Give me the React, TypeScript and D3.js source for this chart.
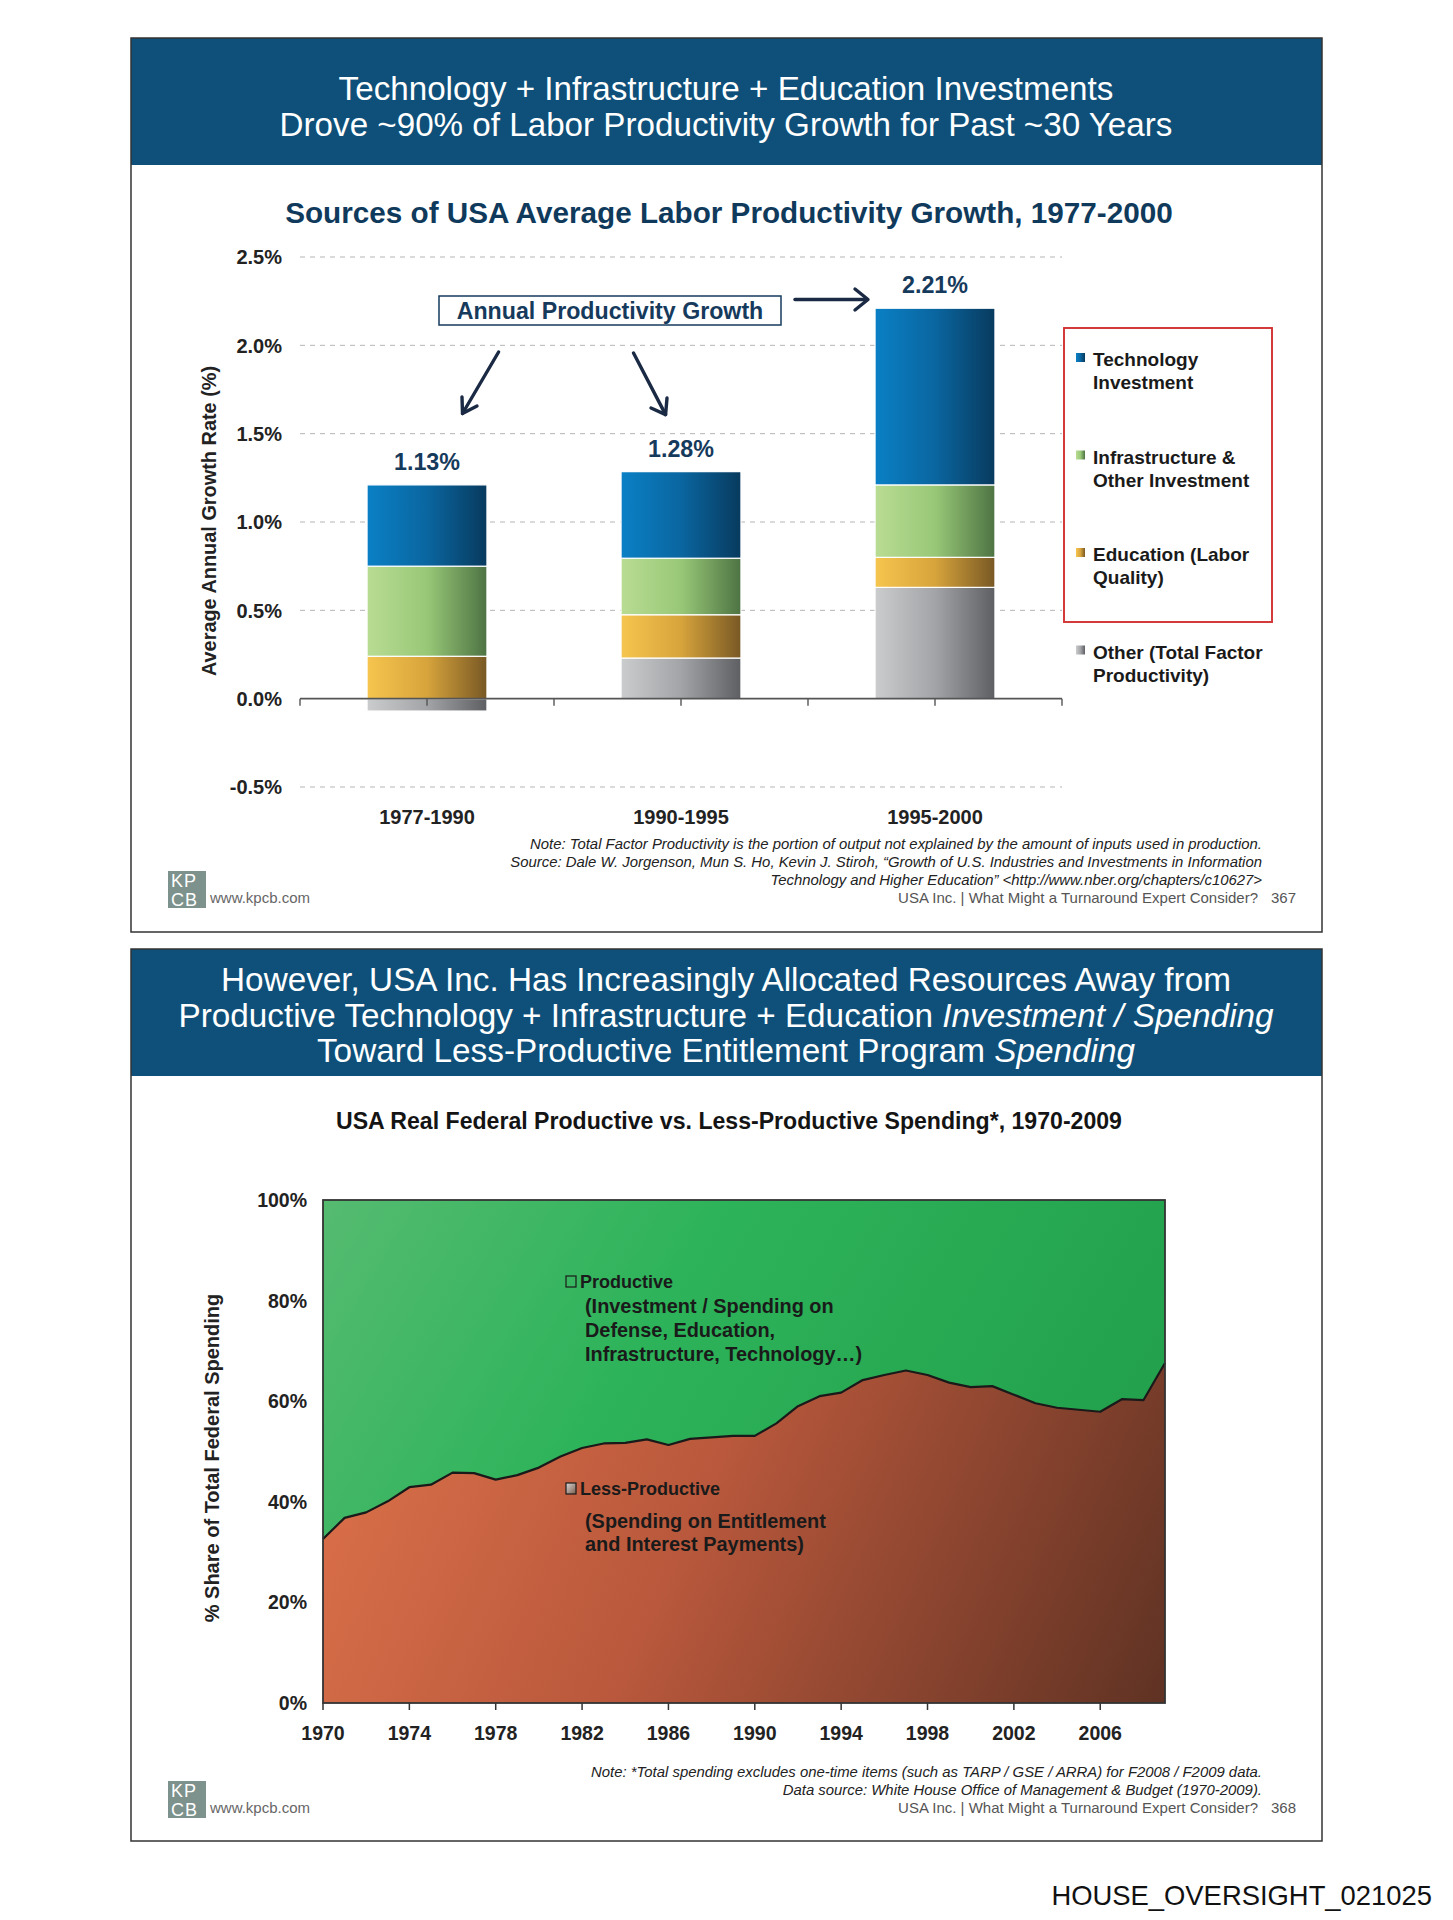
import React from "react";
import * as d3 from "d3";

// ---------- Chart 1 data ----------
const periods = ["1977-1990", "1990-1995", "1995-2000"];
const otherTFP = [-0.07, 0.23, 0.63];
const education = [0.24, 0.245, 0.17];
const infrastructure = [0.51, 0.32, 0.41];
const technology = [0.46, 0.49, 1.0];
const totalLabels = ["1.13%", "1.28%", "2.21%"];
const yTicks1 = [-0.5, 0.0, 0.5, 1.0, 1.5, 2.0, 2.5];
const seriesKeys = ["other", "education", "infrastructure", "technology"];
const legendItems = [
  ["Technology", "Investment"],
  ["Infrastructure &", "Other Investment"],
  ["Education (Labor", "Quality)"],
  ["Other (Total Factor", "Productivity)"],
];

// ---------- Chart 2 data ----------
const years = [
  1970, 1971, 1972, 1973, 1974, 1975, 1976, 1977, 1978, 1979,
  1980, 1981, 1982, 1983, 1984, 1985, 1986, 1987, 1988, 1989,
  1990, 1991, 1992, 1993, 1994, 1995, 1996, 1997, 1998, 1999,
  2000, 2001, 2002, 2003, 2004, 2005, 2006, 2007, 2008, 2009,
];
const lessProductiveShare = [
  32.6, 36.8, 37.9, 40.1, 42.9, 43.4, 45.8, 45.7, 44.4, 45.3,
  46.8, 49.0, 50.7, 51.6, 51.7, 52.4, 51.3, 52.5, 52.8, 53.1,
  53.1, 55.6, 59.0, 61.0, 61.7, 64.2, 65.2, 66.1, 65.2, 63.7,
  62.8, 63.0, 61.3, 59.6, 58.7, 58.3, 57.9, 60.4, 60.2, 67.6,
];
const xTickYears = [1970, 1974, 1978, 1982, 1986, 1990, 1994, 1998, 2002, 2006];
const yTicks2 = [0, 20, 40, 60, 80, 100];

const SANS = "'Liberation Sans', Arial, Helvetica, sans-serif";
const NAVY = "#163a5c";

function Footer({ top, notes, page }: { top: number; notes: string[]; page: string }) {
  const last = top + notes.length * 18;
  return (
    <g fontFamily={SANS}>
      {notes.map((n, i) => (
        <text key={i} x={1262} y={top + i * 18} textAnchor="end" fontSize={14.9} fontStyle="italic" fill="#222">
          {n}
        </text>
      ))}
      <rect x={168} y={last - 32} width={38} height={37} fill="#7d918d" />
      <text x={171} y={last - 16} fontSize={18} fill="#fff" fontWeight={300} letterSpacing={1}>KP</text>
      <text x={171} y={last + 3} fontSize={18} fill="#fff" fontWeight={300} letterSpacing={1}>CB</text>
      <text x={210} y={last} fontSize={15} fill="#666">www.kpcb.com</text>
      <text x={1258} y={last} textAnchor="end" fontSize={15} fill="#555">
        USA Inc. | What Might a Turnaround Expert Consider?
      </text>
      <text x={1296} y={last} textAnchor="end" fontSize={15} fill="#555">{page}</text>
    </g>
  );
}

function Chart1() {
  const y = d3.scaleLinear().domain([-0.5, 2.5]).range([787, 257]);
  const x = d3.scaleBand<string>().domain(periods).range([300, 1062]).paddingInner(0.528).paddingOuter(0.264);
  const rows = periods.map((p, i) => ({
    period: p,
    other: otherTFP[i],
    education: education[i],
    infrastructure: infrastructure[i],
    technology: technology[i],
  }));
  const stack = d3.stack<any>().keys(seriesKeys).offset(d3.stackOffsetDiverging);
  const layers = stack(rows);
  const step = x.step();
  const tickXs = d3.range(7).map((k) => 300 + (k * step) / 2);
  const gradIds: Record<string, string> = {
    technology: "gTech",
    infrastructure: "gInfra",
    education: "gEdu",
    other: "gOther",
  };
  const legendGrad = ["gTech", "gInfra", "gEdu", "gOther"];
  return (
    <g fontFamily={SANS}>
      <defs>
        <linearGradient id="gTech" x1="0" x2="1" y1="0" y2="0">
          <stop offset="0" stopColor="#0a80c5" />
          <stop offset="0.5" stopColor="#0a66a0" />
          <stop offset="1" stopColor="#083a5e" />
        </linearGradient>
        <linearGradient id="gInfra" x1="0" x2="1" y1="0" y2="0">
          <stop offset="0" stopColor="#b9dc93" />
          <stop offset="0.5" stopColor="#98c877" />
          <stop offset="1" stopColor="#4d7343" />
        </linearGradient>
        <linearGradient id="gEdu" x1="0" x2="1" y1="0" y2="0">
          <stop offset="0" stopColor="#f6c54e" />
          <stop offset="0.5" stopColor="#d7a43c" />
          <stop offset="1" stopColor="#785824" />
        </linearGradient>
        <linearGradient id="gOther" x1="0" x2="1" y1="0" y2="0">
          <stop offset="0" stopColor="#cbcccd" />
          <stop offset="0.5" stopColor="#a3a4a7" />
          <stop offset="1" stopColor="#5d5f63" />
        </linearGradient>
      </defs>
      {/* header */}
      <rect x={131} y={38} width={1191} height={127} fill="#0e5079" />
      <rect x={131} y={38} width={1191} height={894} fill="none" stroke="#333" strokeWidth={1.5} />
      <text x={726} y={100} textAnchor="middle" fontSize={33.2} fill="#fff">
        Technology + Infrastructure + Education Investments
      </text>
      <text x={726} y={136} textAnchor="middle" fontSize={33.2} fill="#fff">
        Drove ~90% of Labor Productivity Growth for Past ~30 Years
      </text>
      <text x={729} y={223} textAnchor="middle" fontSize={29.7} fontWeight="bold" fill="#0f3a5c">
        Sources of USA Average Labor Productivity Growth, 1977-2000
      </text>
      {/* gridlines */}
      {yTicks1.filter((t) => t !== 0).map((t) => (
        <line key={t} x1={300} x2={1062} y1={y(t)} y2={y(t)} stroke="#b5b5b5" strokeWidth={1} strokeDasharray="5,5" />
      ))}
      {yTicks1.map((t) => (
        <text key={t} x={282} y={y(t)} dy="0.36em" textAnchor="end" fontSize={20} fontWeight="bold" fill="#222">
          {t.toFixed(1) + "%"}
        </text>
      ))}
      <text transform={`translate(216,521) rotate(-90)`} textAnchor="middle" fontSize={19.9} fontWeight="bold" fill="#222">
        Average Annual Growth Rate (%)
      </text>
      {/* bars */}
      {layers.map((layer) =>
        layer.map((d, i) => {
          const top = y(Math.max(d[0], d[1]));
          const bot = y(Math.min(d[0], d[1]));
          return (
            <rect
              key={layer.key + i}
              x={x(periods[i])}
              y={top}
              width={x.bandwidth()}
              height={bot - top}
              fill={`url(#${gradIds[layer.key]})`}
              stroke="#fff"
              strokeWidth={1.2}
            />
          );
        })
      )}
      {/* axis */}
      <line x1={300} x2={1062} y1={y(0)} y2={y(0)} stroke="#555" strokeWidth={1.6} />
      {tickXs.map((tx, i) => (
        <line key={i} x1={tx} x2={tx} y1={y(0)} y2={y(0) + 7} stroke="#555" strokeWidth={1.4} />
      ))}
      {periods.map((p) => (
        <text key={p} x={(x(p) as number) + x.bandwidth() / 2} y={824} textAnchor="middle" fontSize={20} fontWeight="bold" fill="#222">
          {p}
        </text>
      ))}
      {/* totals */}
      {periods.map((p, i) => {
        const topVal = technology[i] + infrastructure[i] + education[i] + Math.max(0, otherTFP[i]);
        return (
          <text key={p} x={(x(p) as number) + x.bandwidth() / 2} y={y(topVal) - 15} textAnchor="middle" fontSize={23.3} fontWeight="bold" fill={NAVY}>
            {totalLabels[i]}
          </text>
        );
      })}
      {/* annotation */}
      <rect x={439} y={296} width={342} height={29} fill="#fff" stroke={NAVY} strokeWidth={1.5} />
      <text x={610} y={318.5} textAnchor="middle" fontSize={23.2} fontWeight="bold" fill={NAVY}>
        Annual Productivity Growth
      </text>
      <g stroke="#1b2a44" strokeWidth={3.4} fill="none" strokeLinecap="round" strokeLinejoin="round">
        <line x1={795} y1={299.5} x2={867} y2={299.5} />
        <polyline points="855,289 868,299.5 855,310" />
        <line x1={498.6} y1={352} x2={462.5} y2={413.5} />
        <polyline points="462,397 462.5,413.5 477,406" />
        <line x1={633.5} y1={353} x2={665.6} y2={414.6} />
        <polyline points="651,408 665.6,414.6 667,398" />
      </g>
      {/* legend */}
      <rect x={1064} y={328} width={208} height={294} fill="none" stroke="#d33a3a" strokeWidth={2} />
      {legendItems.map((item, i) => {
        const base = 366 + i * 97.5;
        return (
          <g key={i}>
            <rect x={1076} y={base - 13} width={9} height={9} fill={`url(#${legendGrad[i]})`} />
            <text x={1093} y={base} fontSize={19} fontWeight="bold" fill="#1a1a1a">{item[0]}</text>
            <text x={1093} y={base + 23} fontSize={19} fontWeight="bold" fill="#1a1a1a">{item[1]}</text>
          </g>
        );
      })}
      <Footer
        top={849}
        page="367"
        notes={[
          "Note: Total Factor Productivity is the portion of output not explained by the amount of inputs used in production.",
          "Source: Dale W. Jorgenson, Mun S. Ho, Kevin J. Stiroh, \u201CGrowth of U.S. Industries and Investments in Information",
          "Technology and Higher Education\u201D <http://www.nber.org/chapters/c10627>",
        ]}
      />
    </g>
  );
}

function Chart2() {
  const x = d3.scaleLinear().domain([1970, 2009]).range([323, 1165]);
  const y = d3.scaleLinear().domain([0, 100]).range([1703, 1200]);
  const data = years.map((yr, i) => ({ yr, v: lessProductiveShare[i] }));
  const lower = d3.area<any>().x((d) => x(d.yr)).y0(y(0)).y1((d) => y(d.v))(data) as string;
  const upper = d3.area<any>().x((d) => x(d.yr)).y0(y(100)).y1((d) => y(d.v))(data) as string;
  const line = d3.line<any>().x((d) => x(d.yr)).y((d) => y(d.v))(data) as string;
  return (
    <g fontFamily={SANS}>
      <defs>
        <linearGradient id="gGreen" gradientUnits="userSpaceOnUse" x1={323} y1={1200} x2={1165} y2={1703}>
          <stop offset="0" stopColor="#55bb70" />
          <stop offset="0.35" stopColor="#2db35a" />
          <stop offset="1" stopColor="#1f9a47" />
        </linearGradient>
        <linearGradient id="gOrange" gradientUnits="userSpaceOnUse" x1={323} y1={1330} x2={1165} y2={1703}>
          <stop offset="0" stopColor="#de734b" />
          <stop offset="0.45" stopColor="#b9583c" />
          <stop offset="1" stopColor="#5f3223" />
        </linearGradient>
        <linearGradient id="gLegSq" x1="0" x2="1" y1="0" y2="1">
          <stop offset="0" stopColor="#d9d9d9" />
          <stop offset="1" stopColor="#7a5a4a" />
        </linearGradient>
      </defs>
      <rect x={131} y={949} width={1191} height={127} fill="#0e5079" />
      <rect x={131} y={949} width={1191} height={892} fill="none" stroke="#333" strokeWidth={1.5} />
      <text x={726} y={991} textAnchor="middle" fontSize={33.3} fill="#fff">
        However, USA Inc. Has Increasingly Allocated Resources Away from
      </text>
      <text x={726} y={1027} textAnchor="middle" fontSize={33.3} fill="#fff">
        Productive Technology + Infrastructure + Education <tspan fontStyle="italic">Investment / Spending</tspan>
      </text>
      <text x={726} y={1062} textAnchor="middle" fontSize={33.3} fill="#fff">
        Toward Less-Productive Entitlement Program <tspan fontStyle="italic">Spending</tspan>
      </text>
      <text x={729} y={1129} textAnchor="middle" fontSize={23.1} fontWeight="bold" fill="#141414">
        USA Real Federal Productive vs. Less-Productive Spending*, 1970-2009
      </text>
      <path d={upper} fill="url(#gGreen)" />
      <path d={lower} fill="url(#gOrange)" />
      <path d={line} fill="none" stroke="#1a1a1a" strokeWidth={2.2} strokeLinejoin="round" />
      <rect x={323} y={1200} width={842} height={503} fill="none" stroke="#333" strokeWidth={1.8} />
      {yTicks2.map((t) => (
        <text key={t} x={307} y={y(t)} dy="0.36em" textAnchor="end" fontSize={19.5} fontWeight="bold" fill="#222">
          {t + "%"}
        </text>
      ))}
      {xTickYears.map((t) => (
        <g key={t}>
          <line x1={x(t)} x2={x(t)} y1={1703} y2={1710} stroke="#333" strokeWidth={1.5} />
          <text x={x(t)} y={1740} textAnchor="middle" fontSize={19.5} fontWeight="bold" fill="#222">{t}</text>
        </g>
      ))}
      <text transform={`translate(219,1458) rotate(-90)`} textAnchor="middle" fontSize={20} fontWeight="bold" fill="#222">
        % Share of Total Federal Spending
      </text>
      {/* in-chart labels */}
      <rect x={566} y={1276} width={10} height={11} fill="none" stroke="#1a1a1a" strokeWidth={1.2} />
      <text x={580} y={1288} fontSize={18} fontWeight="bold" fill="#1a1a1a">Productive</text>
      <text x={585} y={1313} fontSize={19.9} fontWeight="bold" fill="#1a1a1a">(Investment / Spending on</text>
      <text x={585} y={1337} fontSize={19.9} fontWeight="bold" fill="#1a1a1a">Defense, Education,</text>
      <text x={585} y={1361} fontSize={19.9} fontWeight="bold" fill="#1a1a1a">Infrastructure, Technology…)</text>
      <rect x={566} y={1483} width={10} height={11} fill="url(#gLegSq)" stroke="#1a1a1a" strokeWidth={1.2} />
      <text x={580} y={1495} fontSize={18} fontWeight="bold" fill="#1a1a1a">Less-Productive</text>
      <text x={585} y={1528} fontSize={19.9} fontWeight="bold" fill="#1a1a1a">(Spending on Entitlement</text>
      <text x={585} y={1551} fontSize={19.9} fontWeight="bold" fill="#1a1a1a">and Interest Payments)</text>
      <Footer
        top={1777}
        page="368"
        notes={[
          "Note: *Total spending excludes one-time items (such as TARP / GSE / ARRA) for F2008 / F2009 data.",
          "Data source: White House Office of Management & Budget (1970-2009).",
        ]}
      />
    </g>
  );
}

export default function App() {
  return (
    <svg
      width={1453}
      height={1920}
      viewBox="0 0 1453 1920"
      style={{ position: "absolute", left: 0, top: 0, background: "#fff" }}
    >
      <rect x={0} y={0} width={1453} height={1920} fill="#fff" />
      <Chart1 />
      <Chart2 />
      <text x={1432} y={1905} textAnchor="end" fontSize={27.4} fontFamily={SANS} fill="#111">
        HOUSE_OVERSIGHT_021025
      </text>
    </svg>
  );
}
